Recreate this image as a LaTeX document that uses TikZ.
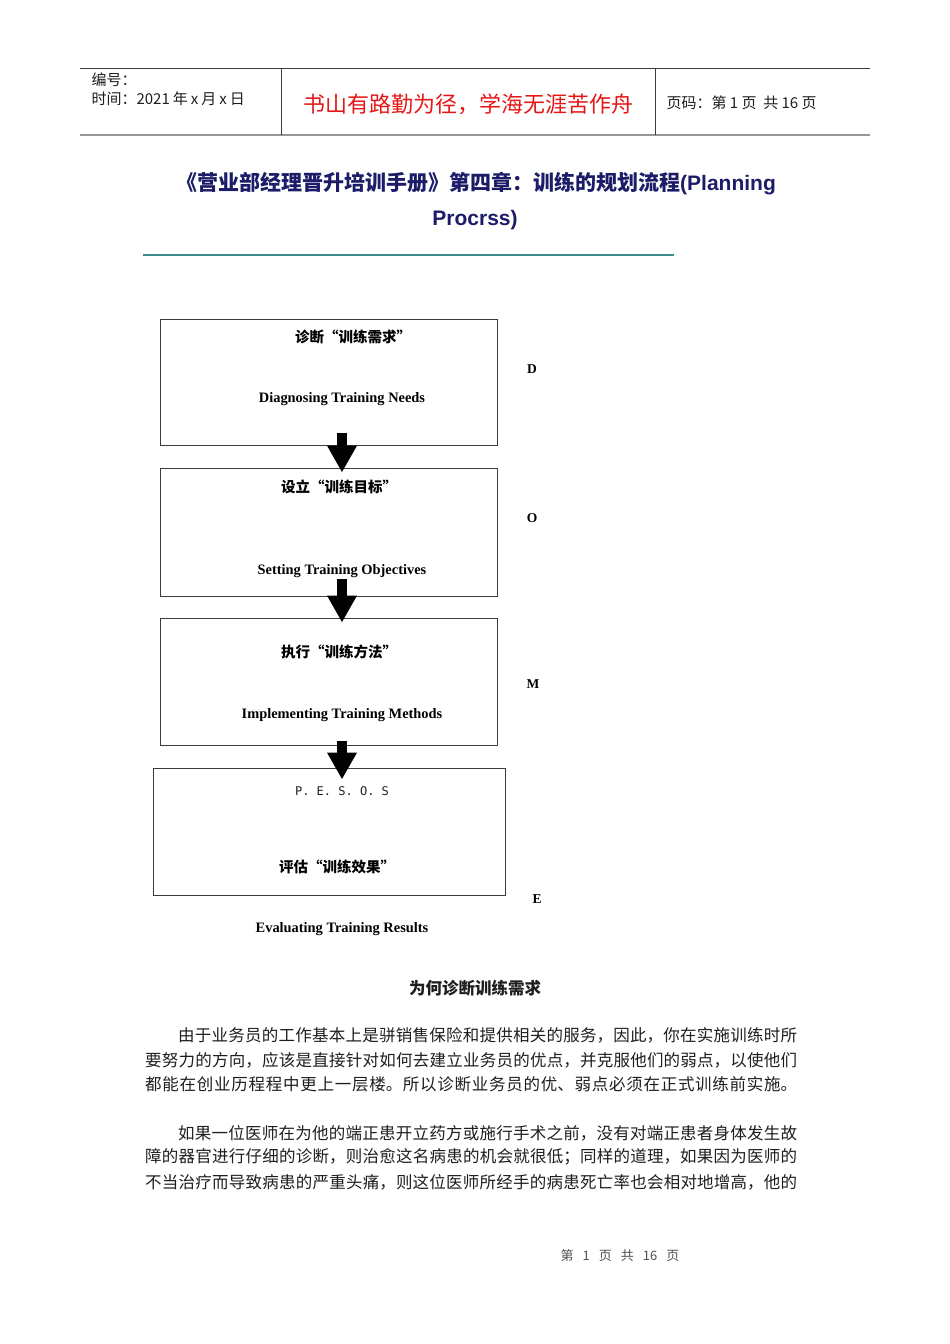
\documentclass[tikz,border=0pt]{standalone}
\usepackage{fontspec}
\setmainfont{Liberation Serif}
\setsansfont{Liberation Sans}
\newfontfamily\cjk{Noto Sans CJK SC}
\newfontfamily\pesosfont{DejaVu Sans Mono}
\usetikzlibrary{arrows.meta, positioning, calc}
\XeTeXlinebreaklocale "zh"
\XeTeXlinebreakskip=0pt plus 1pt
\definecolor{titlenavy}{RGB}{28, 28, 104}
\definecolor{headred}{RGB}{228, 22, 22}
\definecolor{ruleteal}{RGB}{64, 140, 140}
\definecolor{framegray}{RGB}{60, 60, 60}
\definecolor{rulegray}{RGB}{150, 150, 150}
\definecolor{bodyblack}{RGB}{30, 30, 30}
\definecolor{footgray}{RGB}{80, 80, 80}

\begin{document}
\begin{tikzpicture}[x=1pt, y=-1pt,
    headtext/.style={font=\cjk\fontsize{15}{17}\selectfont, text=bodyblack},
    titletext/.style={font=\cjk\bfseries\fontsize{21}{24}\selectfont, text=titlenavy},
    stagebox/.style={draw=framegray, line width=1pt, inner sep=0pt},
    cnlabel/.style={font=\cjk\bfseries\fontsize{14.5}{16}\selectfont},
    enlabel/.style={font=\bfseries\fontsize{14.4}{16}\selectfont},
    letter/.style={font=\bfseries\fontsize{13.5}{15}\selectfont},
    bodyline/.style={anchor=west, inner sep=0pt, align=justify, font=\cjk\fontsize{16.5}{18}\selectfont, text=bodyblack},
    blockarrow/.style={line width=9.5pt, -{Triangle[length=27pt, width=28pt]}}
]
    \useasboundingbox (0,0) rectangle (950,1344);

    % Header table
    \draw[framegray, line width=0.9pt] (80,68) -- (870,68);
    \draw[rulegray, line width=2pt] (80,135) -- (870,135);
    \draw[framegray, line width=0.9pt] (281,68) -- (281,135);
    \draw[framegray, line width=0.9pt] (655,68) -- (655,135);
    \node[headtext, anchor=west] (serial) at (88,80) {编号：};
    \node[headtext, anchor=west] (date) at (88,99) {时间：2021\hspace{3pt}年\hspace{3pt}x\hspace{3pt}月\hspace{3pt}x\hspace{3pt}日};
    \node[font=\cjk\fontsize{22}{24}\selectfont, text=headred] (motto) at (468,104) {书山有路勤为径，学海无涯苦作舟};
    \node[headtext, anchor=west] (pageinfo) at (663,103) {页码：第 1 页\ \ 共 16 页};

    % Title
    \node[titletext] (titleone) at (476,184) {《营业部经理晋升培训手册》第四章：训练的规划流程{\sffamily\bfseries(Planning}};
    \node[titletext] (titletwo) at (475,220) {\sffamily\bfseries Procrss)};
    \draw[ruleteal, line width=1.3pt] (143,255) -- (674,255);

    % Stage boxes
    \node[stagebox, minimum width=337pt, minimum height=126pt] (diagnose) at (328.5,382) {};
    \node[stagebox, minimum width=337pt, minimum height=128pt] (setting) at (328.5,532) {};
    \node[stagebox, minimum width=337pt, minimum height=127pt] (implement) at (328.5,681.5) {};
    \node[stagebox, minimum width=352pt, minimum height=127pt] (evaluate) at (329,831.5) {};

    \node[cnlabel] (diagnosecn) at (353,337) {诊断“训练需求”};
    \node[enlabel] (diagnoseen) at (342,399) {Diagnosing Training Needs};
    \node[cnlabel] (settingcn) at (339,487) {设立“训练目标”};
    \node[enlabel] (settingen) at (342,571) {Setting Training Objectives};
    \node[cnlabel] (implementcn) at (339,652) {执行“训练方法”};
    \node[enlabel] (implementen) at (342,715) {Implementing Training Methods};
    \node[font=\pesosfont\fontsize{12}{14}\selectfont, text=bodyblack] (pesos) at (342,791) {P. E. S. O. S};
    \node[cnlabel] (evaluatecn) at (337,867) {评估“训练效果”};
    \node[enlabel] (evaluateen) at (342,929) {Evaluating Training Results};

    % Stage letters
    \foreach \ch/\x/\y in {D/532/369, O/532/518, M/533/684, E/537/899}
        \node[letter] (letter\ch) at (\x,\y) {\ch};

    % Block arrows
    \coordinate (axis) at (342,0);
    \draw[blockarrow] ($(diagnose.south -| axis)+(0,-13)$) -- ($(setting.north -| axis)+(0,5)$);
    \draw[blockarrow] ($(setting.south -| axis)+(0,-18)$) -- ($(implement.north -| axis)+(0,5)$);
    \draw[blockarrow] ($(implement.south -| axis)+(0,-5)$) -- ($(evaluate.north -| axis)+(0,12)$);

    % Body text
    \node[font=\cjk\bfseries\fontsize{16.5}{18}\selectfont, text=bodyblack] (whyhead) at (475,988) {为何诊断训练需求};
    \foreach \n/\x/\y/\w/\txt in {
        1/178/1035/619/由于业务员的工作基本上是骈销售保险和提供相关的服务，因此，你在实施训练时所,
        2/145/1060/652/要努力的方向，应该是直接针对如何去建立业务员的优点，并克服他们的弱点，以使他们,
        3/145/1084/652/都能在创业历程程中更上一层楼。所以诊断业务员的优、弱点必须在正式训练前实施。,
        4/178/1133/619/如果一位医师在为他的端正患开立药方或施行手术之前，没有对端正患者身体发生故,
        5/145/1157/652/障的器官进行仔细的诊断，则治愈这名病患的机会就很低；同样的道理，如果因为医师的,
        6/145/1182/652/不当治疗而导致病患的严重头痛，则这位医师所经手的病患死亡率也会相对地增高，他的}
        \node[bodyline, text width=\w pt] (line\n) at (\x,\y) {\noindent\parfillskip=0pt\relax\txt\endgraf};

    % Footer
    \node[font=\cjk\fontsize{13}{15}\selectfont, text=footgray] (pagefoot) at (620,1256) {第\hspace{9pt}1\hspace{9pt}页\hspace{9pt}共\hspace{9pt}16\hspace{9pt}页};
\end{tikzpicture}
\end{document}
